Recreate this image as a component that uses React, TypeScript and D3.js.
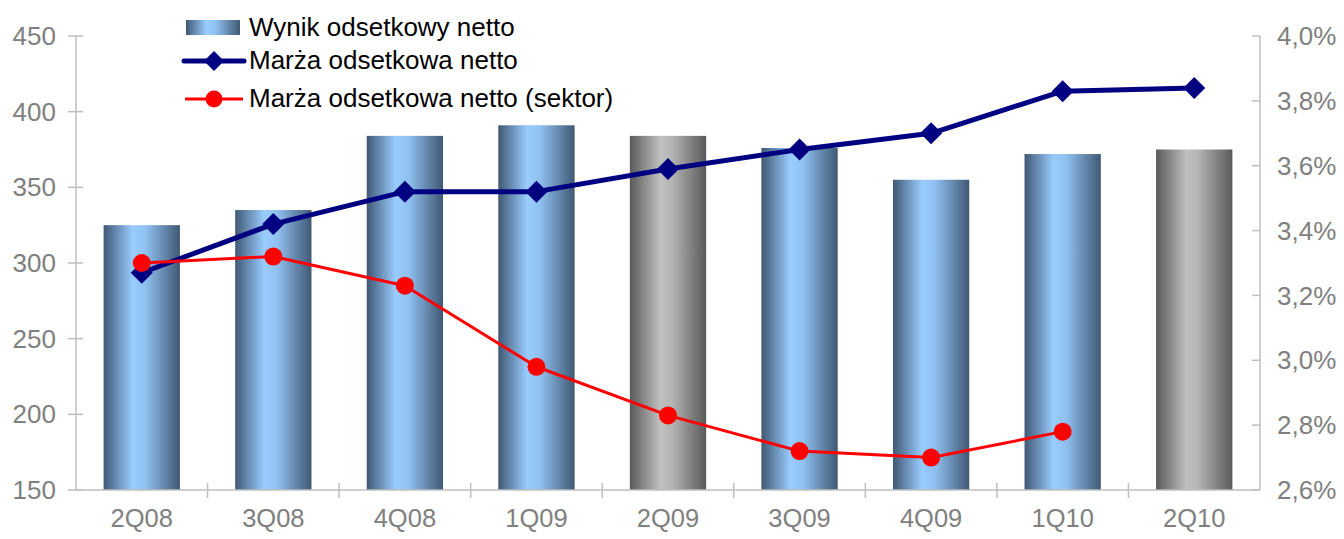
import React from 'react'
import * as d3 from 'd3'

const categories = ['2Q08', '3Q08', '4Q08', '1Q09', '2Q09', '3Q09', '4Q09', '1Q10', '2Q10']
const incomeValues = [325, 335, 384, 391, 384, 376, 355, 372, 375]
const grayBars = ['2Q09', '2Q10']
const marginValues = [3.27, 3.42, 3.52, 3.52, 3.59, 3.65, 3.70, 3.83, 3.84]
const sectorValues: (number | null)[] = [3.30, 3.32, 3.23, 2.98, 2.83, 2.72, 2.70, 2.78, null]
const leftTicks = [150, 200, 250, 300, 350, 400, 450]
const rightTicks = [2.6, 2.8, 3.0, 3.2, 3.4, 3.6, 3.8, 4.0]
const legendLabels = ['Wynik odsetkowy netto', 'Marża odsetkowa netto', 'Marża odsetkowa netto (sektor)']

const W = 1344, H = 539
const left = 76, right = 1260, top = 36, bottom = 490
const axisColor = '#bfbfbf'
const labelColor = '#808080'
const font = 'Liberation Sans, Arial, sans-serif'

const App = () => {
    const x = d3.scaleBand().domain(categories).range([left, right]).paddingInner(0.42).paddingOuter(0.21)
    const yL = d3.scaleLinear().domain([150, 450]).range([bottom, top])
    const yR = d3.scaleLinear().domain([2.6, 4.0]).range([bottom, top])
    const cx = (c: string) => (x(c) as number) + x.bandwidth() / 2
    const step = (right - left) / categories.length

    const line = d3.line<[string, number | null]>()
        .defined(d => d[1] !== null)
        .x(d => cx(d[0]))
        .y(d => yR(d[1] as number))

    const navyPts = categories.map((c, i) => [c, marginValues[i]] as [string, number | null])
    const redPts = categories.map((c, i) => [c, sectorValues[i]] as [string, number | null])
    const fmt = (v: number) => v.toFixed(1).replace('.', ',') + '%'
    const diamond = (px: number, py: number, r: number) => `M${px},${py - r}L${px + r},${py}L${px},${py + r}L${px - r},${py}Z`

    return (
        <svg width={W} height={H} style={{ position: 'absolute', left: 0, top: 0 }}>
            <defs>
                <linearGradient id="blueGrad" x1="0" x2="1" y1="0" y2="0">
                    <stop offset="0" stopColor="#405874" />
                    <stop offset="0.38" stopColor="#99ccff" />
                    <stop offset="0.55" stopColor="#8fc0f0" />
                    <stop offset="1" stopColor="#405874" />
                </linearGradient>
                <linearGradient id="grayGrad" x1="0" x2="1" y1="0" y2="0">
                    <stop offset="0" stopColor="#5a5a5a" />
                    <stop offset="0.4" stopColor="#c0c0c0" />
                    <stop offset="0.55" stopColor="#b4b4b4" />
                    <stop offset="1" stopColor="#5a5a5a" />
                </linearGradient>
            </defs>

            {/* bars */}
            {categories.map((c, i) => (
                <rect key={c} x={x(c)} y={yL(incomeValues[i])} width={x.bandwidth()}
                    height={bottom - yL(incomeValues[i])}
                    fill={grayBars.includes(c) ? 'url(#grayGrad)' : 'url(#blueGrad)'} />
            ))}

            {/* left axis */}
            <line x1={left} x2={left} y1={top} y2={bottom} stroke={axisColor} strokeWidth={1.5} />
            {leftTicks.map(t => (
                <g key={t}>
                    <line x1={left - 8} x2={left + 7} y1={yL(t)} y2={yL(t)} stroke={axisColor} strokeWidth={1.5} />
                    <text x={left - 20} y={yL(t)} dy="0.35em" textAnchor="end" fontSize={26} fill={labelColor} fontFamily={font}>{t}</text>
                </g>
            ))}

            {/* right axis */}
            <line x1={right} x2={right} y1={top} y2={bottom} stroke={axisColor} strokeWidth={1.5} />
            {rightTicks.map(t => (
                <g key={t}>
                    <line x1={right - 8} x2={right} y1={yR(t)} y2={yR(t)} stroke={axisColor} strokeWidth={1.5} />
                    <text x={right + 17} y={yR(t)} dy="0.35em" textAnchor="start" fontSize={26} fill={labelColor} fontFamily={font}>{fmt(t)}</text>
                </g>
            ))}

            {/* bottom axis */}
            <line x1={left} x2={right} y1={bottom} y2={bottom} stroke={axisColor} strokeWidth={1.5} />
            {categories.slice(1).map((c, i) => (
                <line key={c} x1={left + step * (i + 1)} x2={left + step * (i + 1)} y1={bottom - 7} y2={bottom + 8} stroke={axisColor} strokeWidth={1.5} />
            ))}
            {categories.map(c => (
                <text key={c} x={cx(c)} y={527} textAnchor="middle" fontSize={25.5} fill={labelColor} fontFamily={font}>{c}</text>
            ))}

            {/* navy line */}
            <path d={line(navyPts) || ''} fill="none" stroke="#000080" strokeWidth={5} strokeLinejoin="round" />
            {navyPts.map(([c, v]) => (
                <path key={c} d={diamond(cx(c), yR(v as number), 11)} fill="#000080" />
            ))}

            {/* red line */}
            <path d={line(redPts) || ''} fill="none" stroke="#ff0000" strokeWidth={3} strokeLinejoin="round" />
            {redPts.filter(d => d[1] !== null).map(([c, v]) => (
                <circle key={c} cx={cx(c)} cy={yR(v as number)} r={9} fill="#ff0000" />
            ))}

            {/* legend */}
            <g fontFamily={font} fontSize={26} fill="#000">
                <rect x={186} y={20} width={54} height={15} fill="url(#blueGrad)" />
                <text x={249} y={27} dy="0.35em">{legendLabels[0]}</text>

                <line x1={184} x2={244} y1={61} y2={61} stroke="#000080" strokeWidth={5} strokeLinecap="round" />
                <path d={diamond(214, 61, 10)} fill="#000080" />
                <text x={249} y={60} dy="0.35em">{legendLabels[1]}</text>

                <line x1={185} x2={243} y1={99} y2={99} stroke="#ff0000" strokeWidth={3} />
                <circle cx={214} cy={99} r={8.5} fill="#ff0000" />
                <text x={249} y={98} dy="0.35em">{legendLabels[2]}</text>
            </g>
        </svg>
    )
}

export default App
